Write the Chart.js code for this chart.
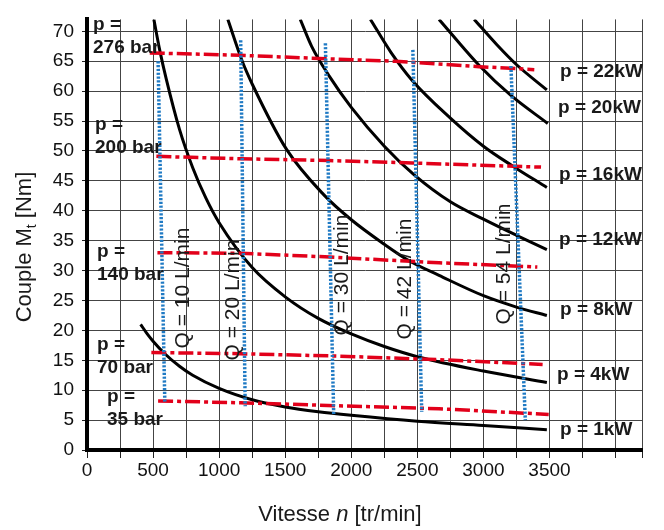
<!DOCTYPE html>
<html>
<head>
<meta charset="utf-8">
<script src="https://cdn.jsdelivr.net/npm/chart.js@4/dist/chart.umd.min.js"></script>
<style>
  html, body { margin: 0; padding: 0; background: #fff; }
  canvas { display: block; }
</style>
</head>
<body>
<canvas id="chart" width="664" height="530"></canvas>
<script>
// Power curves: [n (tr/min), Mt (Nm)]
const p1kW  = [[406,21.0],[450,19.6],[500,18.2],[589,16.1],[700,14.0],[800,12.5],[1000,10.3],[1250,8.4],[1500,7.2],[1750,6.4],[2000,5.8],[2500,4.8],[3000,4.1],[3480,3.4]];
const p4kW  = [[506,72],[550,66.9],[600,62.0],[700,53.6],[800,47.2],[900,42.1],[1000,38.0],[1250,30.5],[1500,25.6],[1750,22.0],[2000,19.4],[2250,17.3],[2500,15.6],[3000,13.2],[3480,11.3]];
const p8kW  = [[1066,72],[1175,65],[1250,61.2],[1509,50.3],[1791,42.7],[2000,38.5],[2250,34.4],[2441,31.6],[2664,29.2],[3000,25.8],[3250,23.9],[3480,22.5]];
const p12kW = [[1614,72],[1700,67.5],[1837,62.4],[2000,57.3],[2250,50.8],[2476,46.0],[2750,41.5],[3000,38.6],[3250,35.9],[3480,33.5]];
const p16kW = [[2145,72],[2300,66.5],[2461,61.8],[2750,55.5],[3000,50.8],[3220,47.5],[3480,43.9]];
const p20kW = [[2664,72],[2968,64.3],[3208,59.3],[3487,54.6]];
const p22kW = [[2930,72],[3100,67.8],[3247,64.5],[3480,60.2]];
const powerCurves = [p1kW, p4kW, p8kW, p12kW, p16kW, p20kW, p22kW];
const powerNames = ['p = 1kW', 'p = 4kW', 'p = 8kW', 'p = 12kW', 'p = 16kW', 'p = 20kW', 'p = 22kW'];

// Pressure lines (red dash-dot)
const bar276 = [[475,66.4],[1160,66.0],[1837,65.4],[2337,65.0],[2968,64.1],[3385,63.6]];
const bar200 = [[525,49.1],[1160,48.7],[1830,48.4],[2460,48.0],[3436,47.3]];
const bar140 = [[533,33.0],[1162,32.9],[1800,32.3],[2664,31.3],[3408,30.6]];
const bar70  = [[487,16.3],[1162,16.1],[1900,15.7],[2664,15.1],[3448,14.3]];
const bar35  = [[538,8.2],[1162,7.9],[1900,7.4],[2664,6.9],[3494,5.95]];
const pressureLines = [bar276, bar200, bar140, bar70, bar35];
const pressureNames = ['276 bar', '200 bar', '140 bar', '70 bar', '35 bar'];

// Flow lines (blue dotted)
const q10 = [[538,65.0],[589,7.9]];
const q20 = [[1163,68.5],[1197,7.3]];
const q30 = [[1804,68.0],[1867,5.9]];
const q42 = [[2466,66.9],[2533,6.4]];
const q54 = [[3208,64.2],[3317,5.0]];
const flowLines = [q10, q20, q30, q42, q54];
const flowNames = ['Q = 10 L/min', 'Q = 20 L/min', 'Q = 30 L/min', 'Q = 42 L/min', 'Q = 54 L/min'];

// Axes
const xGrid = [0,250,500,750,1000,1250,1500,1750,2000,2250,2500,2750,3000,3250,3500,3750,4000,4200];
const xLabels = [0,500,1000,1500,2000,2500,3000,3500];
const yLabels = [0,5,10,15,20,25,30,35,40,45,50,55,60,65,70];

// label placement (pixels)
const kwLabelPos = [[560,430],[557,375],[560,310],[559,240],[559,175],[558,108],[560,72]];
const barLabelPos = [[93,25],[95,125],[97,252],[97,345],[107,397]];
const flowLabelPos = [[183,288],[233,300],[342,275],[405,279],[504,264]];

const toXY = arr => arr.map(p => ({ x: p[0], y: p[1] }));

const datasets = [];
flowLines.forEach(d => datasets.push({
  data: toXY(d), showLine: true, pointRadius: 0, borderColor: '#1f7ac4',
  borderWidth: 3.5, borderDash: [2.2, 1.6], order: 0, clip: 0
}));
pressureLines.forEach(d => datasets.push({
  data: toXY(d), showLine: true, pointRadius: 0, borderColor: '#e2001a',
  borderWidth: 3.5, borderDash: [15, 4, 4, 4], order: 1, clip: 0
}));
powerCurves.forEach(d => datasets.push({
  data: toXY(d), showLine: true, pointRadius: 0, borderColor: '#000',
  borderWidth: 3, cubicInterpolationMode: 'monotone', order: 2, clip: 0
}));

const textPlugin = {
  id: 'texts',
  afterDraw(chart) {
    const ctx = chart.ctx;
    ctx.save();
    ctx.fillStyle = '#1a1a1a';
    ctx.textBaseline = 'middle';

    // kW labels
    ctx.font = 'bold 19px "Liberation Sans", Arial, sans-serif';
    ctx.textAlign = 'left';
    powerNames.forEach((t, i) => ctx.fillText(t, kwLabelPos[i][0], kwLabelPos[i][1]));

    // pressure labels
    pressureNames.forEach((t, i) => {
      ctx.fillText('p =', barLabelPos[i][0], barLabelPos[i][1]);
      ctx.fillText(t, barLabelPos[i][0], barLabelPos[i][1] + 23);
    });

    // flow labels (vertical)
    ctx.font = '21px "Liberation Sans", Arial, sans-serif';
    ctx.textAlign = 'center';
    flowNames.forEach((t, i) => {
      ctx.save();
      ctx.translate(flowLabelPos[i][0], flowLabelPos[i][1]);
      ctx.rotate(-Math.PI / 2);
      ctx.fillText(t, 0, 0);
      ctx.restore();
    });

    // y title: Couple Mt [Nm]
    ctx.save();
    ctx.translate(25, 247);
    ctx.rotate(-Math.PI / 2);
    ctx.textAlign = 'left';
    const big = '22px "Liberation Sans", Arial, sans-serif';
    const small = '14px "Liberation Sans", Arial, sans-serif';
    ctx.font = big;
    const w1 = ctx.measureText('Couple M').width;
    const w3 = ctx.measureText(' [Nm]').width;
    ctx.font = small;
    const w2 = ctx.measureText('t').width;
    let x0 = -(w1 + w2 + w3) / 2;
    ctx.font = big;
    ctx.fillText('Couple M', x0, 0);
    ctx.font = small;
    ctx.fillText('t', x0 + w1, 7);
    ctx.font = big;
    ctx.fillText(' [Nm]', x0 + w1 + w2, 0);
    ctx.restore();

    // x title: Vitesse n [tr/min]
    ctx.textAlign = 'left';
    const reg = '22px "Liberation Sans", Arial, sans-serif';
    const ital = 'italic 22px "Liberation Sans", Arial, sans-serif';
    ctx.font = reg;
    const a = ctx.measureText('Vitesse ').width;
    const c = ctx.measureText(' [tr/min]').width;
    ctx.font = ital;
    const b = ctx.measureText('n').width;
    let xs = 340 - (a + b + c) / 2;
    ctx.font = reg;
    ctx.fillText('Vitesse ', xs, 515);
    ctx.font = ital;
    ctx.fillText('n', xs + a, 515);
    ctx.font = reg;
    ctx.fillText(' [tr/min]', xs + a + b, 515);

    ctx.restore();
  }
};

Chart.defaults.font.family = '"Liberation Sans", Arial, sans-serif';

new Chart(document.getElementById('chart'), {
  type: 'scatter',
  data: { datasets },
  options: {
    responsive: false,
    animation: false,
    layout: { padding: { top: 3, right: 22, left: 0, bottom: 0 } },
    plugins: { legend: { display: false }, tooltip: { enabled: false } },
    scales: {
      x: {
        type: 'linear', min: 0, max: 4200,
        afterFit: s => { s.height = 80; },
        afterBuildTicks: s => { s.ticks = xGrid.map(v => ({ value: v })); },
        ticks: {
          callback: v => xLabels.includes(v) ? String(v) : '',
          font: { size: 19 }, color: '#111', padding: 1, maxRotation: 0, autoSkip: false
        },
        grid: { color: '#444', lineWidth: 1, tickLength: 8, tickColor: '#222' },
        border: { color: '#000', width: 4 }
      },
      y: {
        min: 0, max: 72,
        afterFit: s => { s.width = 87; },
        afterBuildTicks: s => { s.ticks = yLabels.map(v => ({ value: v })); },
        ticks: { font: { size: 19 }, color: '#111', padding: 8, autoSkip: false },
        grid: { color: '#444', lineWidth: 1, tickLength: 5, tickColor: '#222' },
        border: { color: '#000', width: 4 }
      }
    }
  },
  plugins: [textPlugin]
});
</script>
</body>
</html>
